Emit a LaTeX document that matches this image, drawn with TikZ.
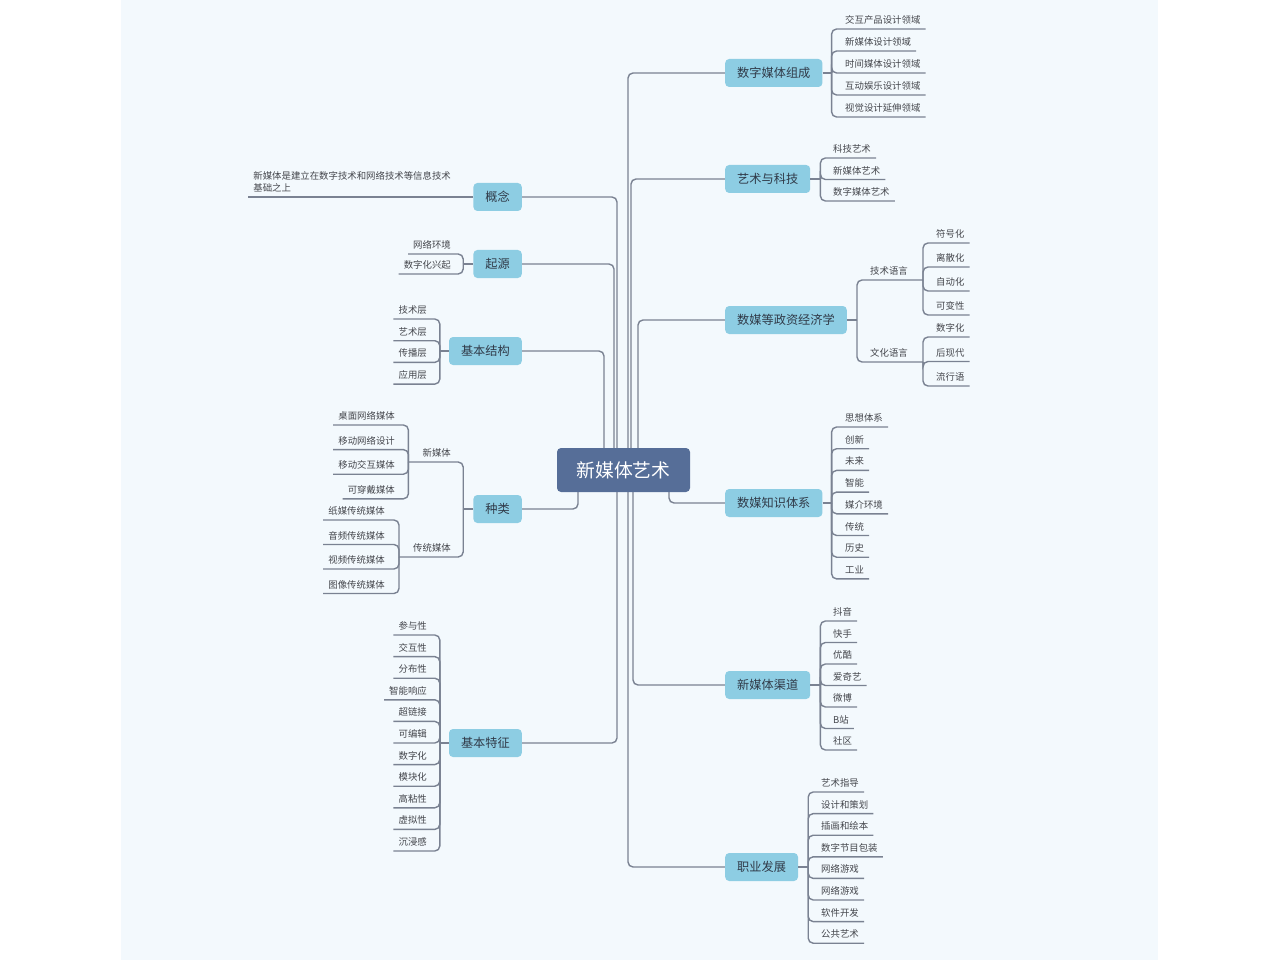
\documentclass[tikz,border=0pt]{standalone}
\usepackage{fontspec}
\setmainfont{Noto Sans CJK SC}
\usetikzlibrary{backgrounds}

\definecolor{pagebg}{RGB}{243,249,253}
\definecolor{rootfill}{RGB}{86,110,152}
\definecolor{branchfill}{RGB}{141,205,227}
\definecolor{linegray}{RGB}{122,130,146}
\definecolor{leaftext}{RGB}{68,70,76}
\definecolor{branchtext}{RGB}{48,58,72}

\begin{document}
\begin{tikzpicture}[
  x=1pt, y=-1pt,
  every node/.style={font=\fontsize{9.4}{12}\selectfont, text=leaftext},
  root/.style={rectangle, fill=rootfill, rounded corners=4pt, minimum width=133pt, minimum height=44pt, font=\fontsize{18.8}{22}\selectfont, text=white},
  branch/.style={rectangle, fill=branchfill, rounded corners=4pt, minimum height=28pt, inner xsep=12pt, font=\fontsize{12.2}{14}\selectfont, text=branchtext},
  leafr/.style={anchor=south west, inner xsep=5pt, inner ysep=4.5pt},
  leafl/.style={anchor=south east, inner xsep=5pt, inner ysep=4.5pt},
  conn/.style={draw=linegray, line width=1.4pt, rounded corners=5pt},
]
\useasboundingbox (0,0) rectangle (1280,960);

% centre
\node[root] (root) at (623.5,470) {新媒体艺术};

% right branches
\node[branch, anchor=west] (dm) at (725,73) {数字媒体组成};
\node[branch, anchor=west] (ak) at (725,179) {艺术与科技};
\node[branch, anchor=west] (jj) at (725,320) {数媒等政资经济学};
\node[branch, anchor=west] (zs) at (725,503) {数媒知识体系};
\node[branch, anchor=west] (qd) at (725,685) {新媒体渠道};
\node[branch, anchor=west] (zy) at (725,867) {职业发展};

% left branches
\node[branch, anchor=east] (gn) at (522,197) {概念};
\node[branch, anchor=east] (qy) at (522,264) {起源};
\node[branch, anchor=east] (jg) at (522,351) {基本结构};
\node[branch, anchor=east] (zl) at (522,509) {种类};
\node[branch, anchor=east] (tz) at (522,743) {基本特征};

% trunk lines
\begin{scope}[on background layer]
  \fill[pagebg] (121,0) rectangle (1158,960);
  \draw[conn] ([xshift=4.5pt]root.center) |- (dm.west);
  \draw[conn] ([xshift=7.5pt]root.center) |- (ak.west);
  \draw[conn] ([xshift=14.5pt]root.center) |- (jj.west);
  \draw[conn] ([xshift=45.5pt]root.center) |- (zs.west);
  \draw[conn] ([xshift=9.5pt]root.center) |- (qd.west);
  \draw[conn] ([xshift=4.5pt]root.center) |- (zy.west);
  \draw[conn] ([xshift=-6.5pt]root.center) |- (gn.east);
  \draw[conn] ([xshift=-9.5pt]root.center) |- (qy.east);
  \draw[conn] ([xshift=-19.5pt]root.center) |- (jg.east);
  \draw[conn] ([xshift=-45.5pt]root.center) |- (zl.east);
  \draw[conn] ([xshift=-6.5pt]root.center) |- (tz.east);
\end{scope}

% 数字媒体组成
\draw[conn] (dm.east) -- ++(9,0) coordinate (dm-b);
\foreach \t [count=\i, evaluate=\i as \y using 29+(\i-1)*22] in {交互产品设计领域,新媒体设计领域,时间媒体设计领域,互动娱乐设计领域,视觉设计延伸领域} {
  \node[leafr] (dm-\i) at (840,\y) {\t};
  \draw[conn] (dm-b) |- (dm-\i.south east);
}

% 艺术与科技
\draw[conn] (ak.east) -- ++(10,0) coordinate (ak-b);
\foreach \t [count=\i, evaluate=\i as \y using 158+(\i-1)*21.5] in {科技艺术,新媒体艺术,数字媒体艺术} {
  \node[leafr] (ak-\i) at (828,\y) {\t};
  \draw[conn] (ak-b) |- (ak-\i.south east);
}

% 数媒等政资经济学
\node[leafr] (js) at (865,280) {技术语言};
\node[leafr] (wh) at (865,362) {文化语言};
\draw[conn] (jj.east) -- ++(10,0) coordinate (jj-b);
\draw[conn] (jj-b) |- (js.south east) -- ++(10,0) coordinate (js-b);
\draw[conn] (jj-b) |- (wh.south east) -- ++(10,0) coordinate (wh-b);
\foreach \t [count=\i, evaluate=\i as \y using 243+(\i-1)*24] in {符号化,离散化,自动化,可变性} {
  \node[leafr] (js-\i) at (931,\y) {\t};
  \draw[conn] (js-b) |- (js-\i.south east);
}
\foreach \t [count=\i, evaluate=\i as \y using 337+(\i-1)*24.5] in {数字化,后现代,流行语} {
  \node[leafr] (wh-\i) at (931,\y) {\t};
  \draw[conn] (wh-b) |- (wh-\i.south east);
}

% 数媒知识体系
\draw[conn] (zs.east) -- ++(9,0) coordinate (zs-b);
\foreach \t [count=\i, evaluate=\i as \y using 427+(\i-1)*21.7] in {思想体系,创新,未来,智能,媒介环境,传统,历史,工业} {
  \node[leafr] (zs-\i) at (840,\y) {\t};
  \draw[conn] (zs-b) |- (zs-\i.south east);
}

% 新媒体渠道
\draw[conn] (qd.east) -- ++(10,0) coordinate (qd-b);
\foreach \t [count=\i, evaluate=\i as \y using 621+(\i-1)*21.5] in {抖音,快手,优酷,爱奇艺,微博,B站,社区} {
  \node[leafr] (qd-\i) at (828,\y) {\t};
  \draw[conn] (qd-b) |- (qd-\i.south east);
}

% 职业发展
\draw[conn] (zy.east) -- ++(10,0) coordinate (zy-b);
\foreach \t [count=\i, evaluate=\i as \y using 792+(\i-1)*21.6] in {艺术指导,设计和策划,插画和绘本,数字节目包装,网络游戏,网络游戏,软件开发,公共艺术} {
  \node[leafr] (zy-\i) at (816,\y) {\t};
  \draw[conn] (zy-b) |- (zy-\i.south east);
}

% 概念
\node[leafl, align=left] (gn-1) at (456,197) {新媒体是建立在数字技术和网络技术等信息技术\\基础之上};
\draw[conn] (gn.west) -- (gn-1.south west);

% 起源
\draw[conn] (qy.west) -- ++(-10,0) coordinate (qy-b);
\foreach \t [count=\i, evaluate=\i as \y using 254+(\i-1)*20] in {网络环境,数字化兴起} {
  \node[leafl] (qy-\i) at (456,\y) {\t};
  \draw[conn] (qy-b) |- (qy-\i.south west);
}

% 基本结构
\draw[conn] (jg.west) -- ++(-9,0) coordinate (jg-b);
\foreach \t [count=\i, evaluate=\i as \y using 319+(\i-1)*21.7] in {技术层,艺术层,传播层,应用层} {
  \node[leafl] (jg-\i) at (432,\y) {\t};
  \draw[conn] (jg-b) |- (jg-\i.south west);
}

% 种类
\node[leafl] (xm) at (456,462) {新媒体};
\node[leafl] (ct) at (456,557) {传统媒体};
\draw[conn] (zl.west) -- ++(-10,0) coordinate (zl-b);
\draw[conn] (zl-b) |- (xm.south west) -- ++(-9,0) coordinate (xm-b);
\draw[conn] (zl-b) |- (ct.south west) -- ++(-9,0) coordinate (ct-b);
\foreach \t [count=\i, evaluate=\i as \y using 425+(\i-1)*24.6] in {桌面网络媒体,移动网络设计,移动交互媒体,可穿戴媒体} {
  \node[leafl] (xm-\i) at (400,\y) {\t};
  \draw[conn] (xm-b) |- (xm-\i.south west);
}
\foreach \t [count=\i, evaluate=\i as \y using 520+(\i-1)*24.5] in {纸媒传统媒体,音频传统媒体,视频传统媒体,图像传统媒体} {
  \node[leafl] (ct-\i) at (390,\y) {\t};
  \draw[conn] (ct-b) |- (ct-\i.south west);
}

% 基本特征
\draw[conn] (tz.west) -- ++(-9,0) coordinate (tz-b);
\foreach \t [count=\i, evaluate=\i as \y using 635+(\i-1)*21.6] in {参与性,交互性,分布性,智能响应,超链接,可编辑,数字化,模块化,高粘性,虚拟性,沉浸感} {
  \node[leafl] (tz-\i) at (432,\y) {\t};
  \draw[conn] (tz-b) |- (tz-\i.south west);
}

\end{tikzpicture}
\end{document}
